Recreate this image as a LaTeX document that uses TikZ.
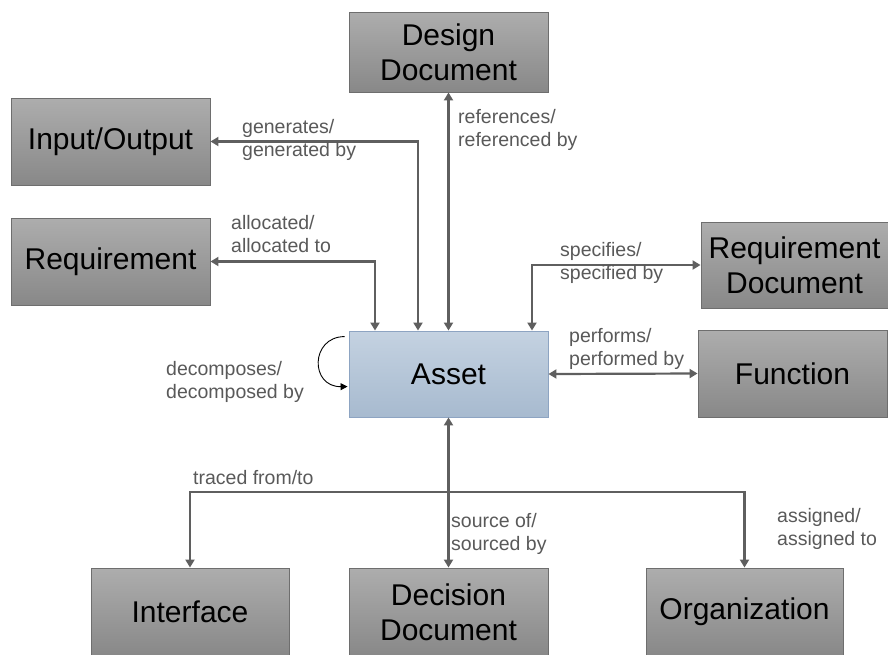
\documentclass[tikz,border=0pt]{standalone}
\usepackage{fontspec}
\setmainfont{Liberation Sans}
\usetikzlibrary{arrows.meta,calc}

\definecolor{linegray}{HTML}{5F5F5F}
\definecolor{labelgray}{HTML}{595959}
\definecolor{boxtop}{HTML}{ADADAD}
\definecolor{boxbot}{HTML}{888888}
\definecolor{boxedge}{HTML}{6E6E6E}
\definecolor{assettop}{HTML}{C4D2E1}
\definecolor{assetbot}{HTML}{A7BACF}
\definecolor{assetedge}{HTML}{8DA4C2}

\tikzset{
  entity/.style={draw=boxedge, line width=0.9pt, top color=boxtop, bottom color=boxbot,
    align=center, inner sep=0pt, font=\fontsize{30}{35}\selectfont},
  assetbox/.style={draw=assetedge, line width=0.9pt, top color=assettop, bottom color=assetbot,
    align=center, inner sep=0pt, font=\fontsize{30}{35}\selectfont},
  conn/.style={draw=linegray, line width=2.2pt,
    {Triangle[length=8pt,width=9pt]}-{Triangle[length=8pt,width=9pt]}},
  connto/.style={draw=linegray, line width=2.2pt, -{Triangle[length=8pt,width=9pt]}},
  rel/.style={anchor=west, align=left, inner sep=0pt, text=labelgray,
    font=\fontsize{19.5}{23}\selectfont},
}

\begin{document}
\begin{tikzpicture}[x=1pt,y=-1pt]
\path[use as bounding box] (0,0) rectangle (888,654);
\clip (0,0) rectangle (888,654);

% entities
\node[entity, minimum width=199pt, minimum height=80pt] (design) at (448.5,52) {Design\\Document};
\node[entity, minimum width=199pt, minimum height=87pt] (io) at (110.5,141.5) {Input/Output};
\node[entity, minimum width=199pt, minimum height=87pt] (req) at (110.5,261.5) {Requirement};
\node[entity, minimum width=187pt, minimum height=86pt] (reqdoc) at (794.5,265) {Requirement\\Document};
\node[assetbox, minimum width=199pt, minimum height=86pt] (asset) at (448.5,374) {Asset};
\node[entity, minimum width=189pt, minimum height=87pt] (func) at (792.5,373.5) {Function};
\node[entity, minimum width=198pt, minimum height=88pt] (iface) at (190,612) {Interface};
\node[entity, minimum width=199pt, minimum height=88pt] (decision) at (448.5,612) {Decision\\Document};
\node[entity, minimum width=197pt, minimum height=88pt] (org) at (744.5,612) {Organization};

% upper relations
\draw[conn] (io.east) -| ([xshift=-30.5pt]asset.north);
\draw[conn] (req.east) -| ([xshift=-73.5pt]asset.north);
\draw[conn] (design.south) -- (asset.north);
\draw[conn] (reqdoc.west) -| ([xshift=83.5pt]asset.north);
\draw[conn] (asset.east) -- (func.west);

% lower relations through a shared bus
\coordinate (bus) at (448.5,492);
\draw[connto] (bus) -- (asset.south);
\draw[connto] (bus) -| (iface.north);
\draw[connto] (bus) -- (decision.north);
\draw[connto] (bus) -| (org.north);

% self relation
\coordinate (selfa) at ($(asset.north west)+(-4,6)$);
\coordinate (selfb) at ($(asset.north west)+(-1,56)$);
\draw[black, line width=0.9pt, -{Triangle[length=7pt,width=7pt]}]
  (selfa) .. controls (310,337) and (310,387) .. (selfb);

% relation labels
\node[rel] (lgen) at (242,140) {generates/\\generated by};
\node[rel] (lalloc) at (231,234.5) {allocated/\\allocated to};
\node[rel] (lref) at (458,130) {references/\\referenced by};
\node[rel] (lspec) at (560,263) {specifies/\\specified by};
\node[rel] (lperf) at (569,349) {performs/\\performed by};
\node[rel] (ldec) at (166,381.5) {decomposes/\\decomposed by};
\node[rel] (ltrace) at (193,478) {traced from/to};
\node[rel] (lsrc) at (451,533.5) {source of/\\sourced by};
\node[rel] (lasg) at (777,528.5) {assigned/\\assigned to};
\end{tikzpicture}
\end{document}
